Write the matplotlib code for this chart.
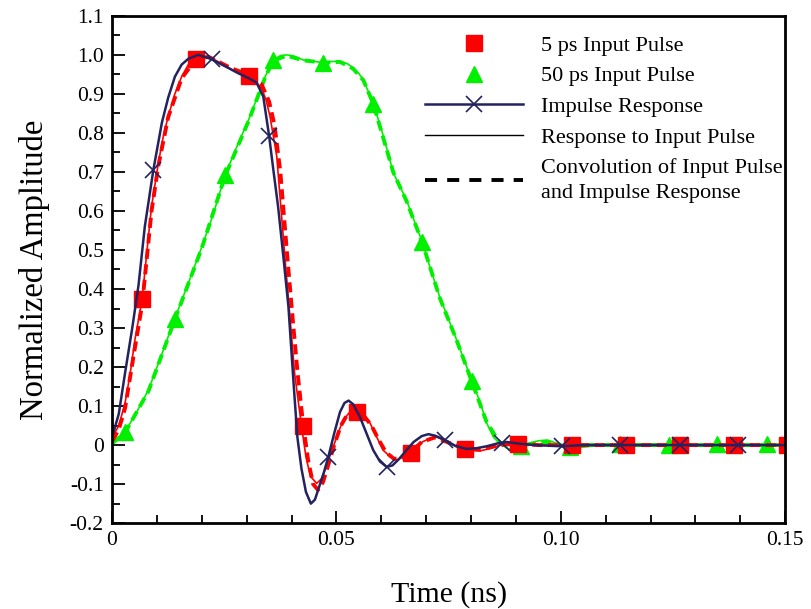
#!/usr/bin/env python3

import numpy as np
from matplotlib import pyplot as plt
from matplotlib.lines import Line2D
from matplotlib.legend_handler import HandlerLine2D
from matplotlib.ticker import MultipleLocator, FixedLocator, FixedFormatter

RED = '#ff0000'
GREEN = '#00f000'
NAVY = '#23235f'

# impulse response (ns, normalized)
t_imp = [0.0000, 0.0015, 0.0029, 0.0045, 0.0059, 0.0073, 0.0092, 0.0111, 0.0125, 0.0140,
         0.0155, 0.0170, 0.0192, 0.0222, 0.0250, 0.0281, 0.0305, 0.0322, 0.0337, 0.0350,
         0.0360, 0.0370, 0.0382, 0.0393, 0.0405, 0.0413, 0.0422, 0.0432, 0.0443, 0.0452,
         0.0462, 0.0472, 0.0482, 0.0495, 0.0508, 0.0518, 0.0527, 0.0537, 0.0552, 0.0567,
         0.0582, 0.0597, 0.0612, 0.0625, 0.0640, 0.0656, 0.0672, 0.0690, 0.0705, 0.0720,
         0.0742, 0.0765, 0.0790, 0.0812, 0.0835, 0.0858, 0.0879, 0.0905, 0.0940, 0.1002,
         0.1050, 0.1131, 0.1265, 0.1394, 0.1500]
v_imp = [0.020, 0.080, 0.185, 0.300, 0.410, 0.560, 0.705, 0.826, 0.890, 0.944,
         0.975, 0.990, 1.000, 0.989, 0.972, 0.953, 0.940, 0.929, 0.893, 0.792,
         0.700, 0.611, 0.480, 0.355, 0.150, 0.020, -0.060, -0.120, -0.150, -0.140,
         -0.105, -0.070, -0.030, 0.030, 0.085, 0.108, 0.114, 0.105, 0.073, 0.030,
         -0.013, -0.042, -0.056, -0.052, -0.035, -0.013, 0.008, 0.023, 0.028, 0.024,
         0.013, -0.002, -0.010, -0.008, -0.003, 0.004, 0.008, 0.004, 0.000, -0.003,
         0.000, 0.000, 0.000, 0.000, 0.000]
t_x = [0.0092, 0.0222, 0.0350, 0.0482, 0.0612, 0.0742, 0.0869, 0.1002, 0.1131, 0.1265, 0.1394]
v_x = [0.705, 0.989, 0.792, -0.030, -0.056, 0.013, 0.006, -0.003, 0.000, 0.000, 0.000]

# 5 ps input pulse: measured response
t_r = [0.0000, 0.0015, 0.0029, 0.0040, 0.0051, 0.0067, 0.0078, 0.0088, 0.0103, 0.0114,
       0.0125, 0.0140, 0.0155, 0.0170, 0.0186, 0.0215, 0.0240, 0.0267, 0.0306, 0.0333,
       0.0343, 0.0352, 0.0367, 0.0385, 0.0397, 0.0407, 0.0422, 0.0432, 0.0442, 0.0456,
       0.0468, 0.0480, 0.0493, 0.0505, 0.0515, 0.0530, 0.0542, 0.0555, 0.0575, 0.0590,
       0.0604, 0.0620, 0.0634, 0.0650, 0.0666, 0.0680, 0.0693, 0.0710, 0.0723, 0.0740,
       0.0753, 0.0770, 0.0786, 0.0800, 0.0820, 0.0845, 0.0864, 0.0885, 0.0904, 0.0950,
       0.1024, 0.1500]
v_r = [0.018, 0.050, 0.108, 0.180, 0.270, 0.374, 0.500, 0.611, 0.722, 0.790,
       0.842, 0.900, 0.944, 0.975, 0.990, 0.996, 0.980, 0.962, 0.946, 0.915,
       0.885, 0.842, 0.740, 0.483, 0.320, 0.182, 0.050, -0.030, -0.080, -0.098,
       -0.085, -0.045, -0.004, 0.035, 0.064, 0.085, 0.092, 0.085, 0.056, 0.020,
       -0.013, -0.030, -0.038, -0.030, -0.015, 0.000, 0.009, 0.018, 0.021, 0.012,
       0.004, -0.005, -0.009, -0.013, -0.015, -0.008, 0.000, 0.004, 0.004, 0.000,
       0.000, 0.000]
# 5 ps input pulse: convolution
t_rc = [0.0000, 0.0015, 0.0029, 0.0051, 0.0067, 0.0088, 0.0103, 0.0125, 0.0155, 0.0186,
        0.0215, 0.0267, 0.0306, 0.0333, 0.0350, 0.0362, 0.0375, 0.0390, 0.0402, 0.0413,
        0.0425, 0.0437, 0.0448, 0.0459, 0.0470, 0.0482, 0.0495, 0.0510, 0.0525, 0.0543,
        0.0558, 0.0578, 0.0595, 0.0610, 0.0628, 0.0645, 0.0666, 0.0690, 0.0720, 0.0755,
        0.0790, 0.0820, 0.0864, 0.0904, 0.0950, 0.1500]
v_rc = [0.010, 0.040, 0.095, 0.250, 0.360, 0.600, 0.715, 0.840, 0.940, 0.988,
        0.995, 0.965, 0.948, 0.925, 0.880, 0.820, 0.700, 0.490, 0.330, 0.190,
        0.060, -0.040, -0.100, -0.115, -0.095, -0.050, 0.000, 0.050, 0.080, 0.090,
        0.080, 0.050, 0.012, -0.018, -0.035, -0.035, -0.018, 0.008, 0.020, 0.004,
        -0.010, -0.012, 0.000, 0.004, 0.000, 0.000]
t_sq = [0.0067, 0.0186, 0.0306, 0.0426, 0.0546, 0.0666, 0.0786, 0.0904, 0.1024, 0.1145,
        0.1265, 0.1385, 0.1503]
v_sq = [0.374, 0.990, 0.946, 0.049, 0.086, -0.021, -0.010, 0.003, 0.000, 0.000,
        0.000, 0.000, 0.000]

# 50 ps input pulse: measured response
t_g = [0.0000, 0.0029, 0.0055, 0.0081, 0.0110, 0.0140, 0.0170, 0.0200, 0.0225, 0.0252,
       0.0280, 0.0304, 0.0325, 0.0341, 0.0359, 0.0375, 0.0389, 0.0405, 0.0426, 0.0471,
       0.0490, 0.0508, 0.0525, 0.0537, 0.0550, 0.0560, 0.0582, 0.0605, 0.0627, 0.0656,
       0.0691, 0.0710, 0.0730, 0.0768, 0.0801, 0.0820, 0.0835, 0.0850, 0.0864, 0.0880,
       0.0894, 0.0909, 0.0930, 0.0950, 0.0970, 0.0990, 0.1010, 0.1030, 0.1060, 0.1100,
       0.1150, 0.1250, 0.1500]
v_g = [0.005, 0.034, 0.085, 0.141, 0.230, 0.325, 0.415, 0.508, 0.590, 0.692,
       0.770, 0.833, 0.895, 0.944, 0.987, 0.998, 1.000, 0.997, 0.987, 0.980,
       0.983, 0.983, 0.977, 0.966, 0.952, 0.936, 0.876, 0.790, 0.697, 0.628,
       0.521, 0.450, 0.380, 0.269, 0.167, 0.110, 0.056, 0.020, 0.004, -0.008,
       -0.013, -0.004, 0.005, 0.011, 0.013, 0.005, -0.005, -0.008, -0.004, 0.002,
       0.003, 0.000, 0.000]
# 50 ps input pulse: convolution
t_gc = [0.0000, 0.0029, 0.0081, 0.0140, 0.0200, 0.0252, 0.0304, 0.0341, 0.0359, 0.0389,
        0.0426, 0.0471, 0.0508, 0.0537, 0.0560, 0.0582, 0.0627, 0.0656, 0.0691, 0.0730,
        0.0768, 0.0801, 0.0835, 0.0864, 0.0894, 0.0930, 0.0970, 0.1010, 0.1060, 0.1500]
v_gc = [0.004, 0.032, 0.138, 0.322, 0.505, 0.690, 0.830, 0.942, 0.985, 0.998,
        0.986, 0.980, 0.982, 0.965, 0.935, 0.875, 0.698, 0.626, 0.520, 0.378,
        0.268, 0.165, 0.058, 0.006, -0.010, 0.003, 0.008, -0.003, 0.000, 0.000]
t_tri = [0.0029, 0.0140, 0.0252, 0.0359, 0.0471, 0.0581, 0.0691, 0.0801, 0.0911, 0.1020,
         0.1131, 0.1241, 0.1349, 0.1459]
v_tri = [0.033, 0.324, 0.691, 0.987, 0.980, 0.875, 0.520, 0.163, -0.003, -0.004,
         0.003, 0.000, 0.003, 0.002]

y_ticks = [-0.2, -0.1, 0.0, 0.1, 0.2, 0.3, 0.4, 0.5, 0.6, 0.7, 0.8, 0.9, 1.0, 1.1]
y_labels = ['-0.2', '-0.1', '0', '0.1', '0.2', '0.3', '0.4', '0.5', '0.6', '0.7',
            '0.8', '0.9', '1.0', '1.1']
x_ticks = [0.0, 0.05, 0.10, 0.15]
x_labels = ['0', '0.05', '0.10', '0.15']

plt.rcParams['font.family'] = ['Liberation Serif', 'DejaVu Serif']

fig = plt.figure(figsize=(8.12, 6.09), dpi=100)
ax = fig.add_axes([0.138, 0.141, 0.829, 0.833])

dash = (0, (2.6, 1.4))
ax.plot(t_g, v_g, '-', color=GREEN, lw=1.2)
ax.plot(t_gc, v_gc, color=GREEN, lw=2.8, ls=dash)
ax.plot(t_tri, v_tri, '^', color=GREEN, ms=12, ls='none')
ax.plot(t_r, v_r, '-', color=RED, lw=1.2)
ax.plot(t_rc, v_rc, color=RED, lw=2.8, ls=dash)
ax.plot(t_sq, v_sq, 's', color=RED, ms=11.5, ls='none')
ax.plot(t_imp, v_imp, '-', color=NAVY, lw=1.8)
ax.plot(t_x, v_x, 'x', color=NAVY, ms=12, mew=1.2, ls='none')

ax.set_xlim(0, 0.15)
ax.set_ylim(-0.2, 1.1)
ax.xaxis.set_major_locator(FixedLocator(x_ticks))
ax.xaxis.set_major_formatter(FixedFormatter(x_labels))
ax.xaxis.set_minor_locator(MultipleLocator(0.01))
ax.yaxis.set_major_locator(FixedLocator(y_ticks))
ax.yaxis.set_major_formatter(FixedFormatter(y_labels))
ax.yaxis.set_minor_locator(MultipleLocator(0.05))
ax.tick_params(which='both', direction='in', labelsize=15.5, width=1.3)
ax.tick_params(which='major', length=9, pad=6)
ax.tick_params(which='minor', length=6)
for s in ax.spines.values():
    s.set_linewidth(2)

ax.set_xlabel('Time (ns)', fontsize=21.5, labelpad=22)
ax.set_ylabel('Normalized Amplitude', fontsize=23.5, labelpad=14)

h_sq = Line2D([], [], marker='s', color=RED, ms=11.5, ls='none')
h_tri = Line2D([], [], marker='^', color=GREEN, ms=12, ls='none')
h_imp = Line2D([], [], marker='x', color=NAVY, ms=12, mew=1.2, lw=1.8)
h_sol = Line2D([], [], color='black', lw=1.0)
h_con = Line2D([], [], color='black', lw=2.8, ls=(0, (3.1, 2.6)))
leg = ax.legend([h_sq, h_tri, h_imp, h_sol, h_con],
                ['5 ps Input Pulse', '50 ps Input Pulse', 'Impulse Response',
                 'Response to Input Pulse', 'Convolution of Input Pulse\nand Impulse Response'],
                loc='upper left', bbox_to_anchor=(0.465, 0.962), frameon=False,
                fontsize=16, handlelength=4.4, handletextpad=0.8, labelspacing=0.46,
                borderpad=0, borderaxespad=0,
                handler_map={h_sq: HandlerLine2D(numpoints=1), h_tri: HandlerLine2D(numpoints=1)})
for txt in leg.get_texts():
    txt.set_linespacing(1.45)

fig.savefig('out.png', dpi=100)
